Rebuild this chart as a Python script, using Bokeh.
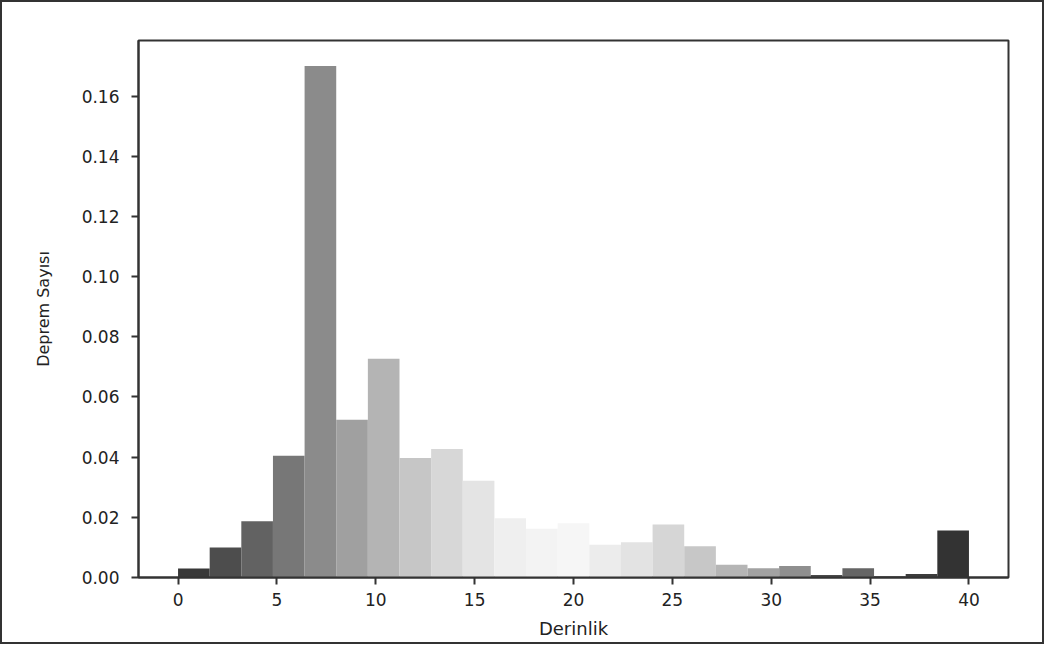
import numpy as np
from bokeh.plotting import figure
from bokeh.layouts import column
from bokeh.models import FixedTicker, PrintfTickFormatter, Range1d, ColumnDataSource
from bokeh.embed import file_html
from bokeh.resources import INLINE

# Histogram data (density), 25 bins over 0..40
bin_start = 0.0
bin_end = 40.0
n_bins = 25
density = [0.0030, 0.0100, 0.0187, 0.0405, 0.1700, 0.0524, 0.0727, 0.0397,
           0.0427, 0.0322, 0.0197, 0.0162, 0.0180, 0.0109, 0.0117, 0.0176,
           0.0104, 0.0042, 0.0031, 0.0038, 0.0008, 0.0031, 0.0004, 0.0012,
           0.0156]
bar_colors = ["#383838", "#4d4d4d", "#626262", "#777777", "#8b8b8b", "#a0a0a0",
              "#b4b4b4", "#c6c6c6", "#d7d7d7", "#e4e4e4", "#efefef", "#f3f3f3",
              "#f6f6f6", "#ececec", "#e3e3e3", "#d6d6d6", "#c7c7c7", "#b5b5b5",
              "#a2a2a2", "#8f8f8f", "#4a4a4a", "#656565", "#454545", "#3c3c3c",
              "#333333"]
x_ticks = [0, 5, 10, 15, 20, 25, 30, 35, 40]
y_ticks = [0.00, 0.02, 0.04, 0.06, 0.08, 0.10, 0.12, 0.14, 0.16]

edges = np.linspace(bin_start, bin_end, n_bins + 1)
src = ColumnDataSource(dict(left=edges[:-1], right=edges[1:], top=density,
                            bottom=[0] * n_bins, color=bar_colors))

p = figure(width=1040, height=640, output_backend="svg", toolbar_location=None,
           x_range=Range1d(-2, 42), y_range=Range1d(0, 0.1785),
           min_border_left=136, min_border_right=34, min_border_top=38,
           min_border_bottom=65)

p.quad(left="left", right="right", top="top", bottom="bottom", fill_color="color",
       line_color=None, source=src)

p.grid.visible = False
p.outline_line_color = "#333333"
p.outline_line_width = 2
p.background_fill_color = "white"
p.border_fill_color = "white"

font = "DejaVu Sans"
for ax in (p.xaxis[0], p.yaxis[0]):
    ax.axis_line_color = "#333333"
    ax.axis_line_width = 2
    ax.major_tick_line_color = "#333333"
    ax.major_tick_line_width = 2
    ax.major_tick_in = 0
    ax.major_tick_out = 7
    ax.minor_tick_line_color = None
    ax.major_label_text_font = font
    ax.major_label_text_font_size = "17px"
    ax.major_label_text_color = "#222222"
    ax.axis_label_text_font = font
    ax.axis_label_text_font_style = "normal"
    ax.axis_label_text_color = "#222222"

p.xaxis.ticker = FixedTicker(ticks=x_ticks)
p.yaxis.ticker = FixedTicker(ticks=y_ticks)
p.yaxis.formatter = PrintfTickFormatter(format="%.2f")
p.xaxis.axis_label = "Derinlik"
p.yaxis.axis_label = "Deprem Sayısı"
p.xaxis.axis_label_text_font_size = "18px"
p.yaxis.axis_label_text_font_size = "16px"
p.xaxis.major_label_standoff = 8
p.yaxis.major_label_standoff = 12
p.xaxis.axis_label_standoff = 9
p.yaxis.axis_label_standoff = 26

layout = column(p, styles={"border": "2px solid #333333", "background": "white"})

open("out.html", "w").write(file_html(layout, INLINE))
